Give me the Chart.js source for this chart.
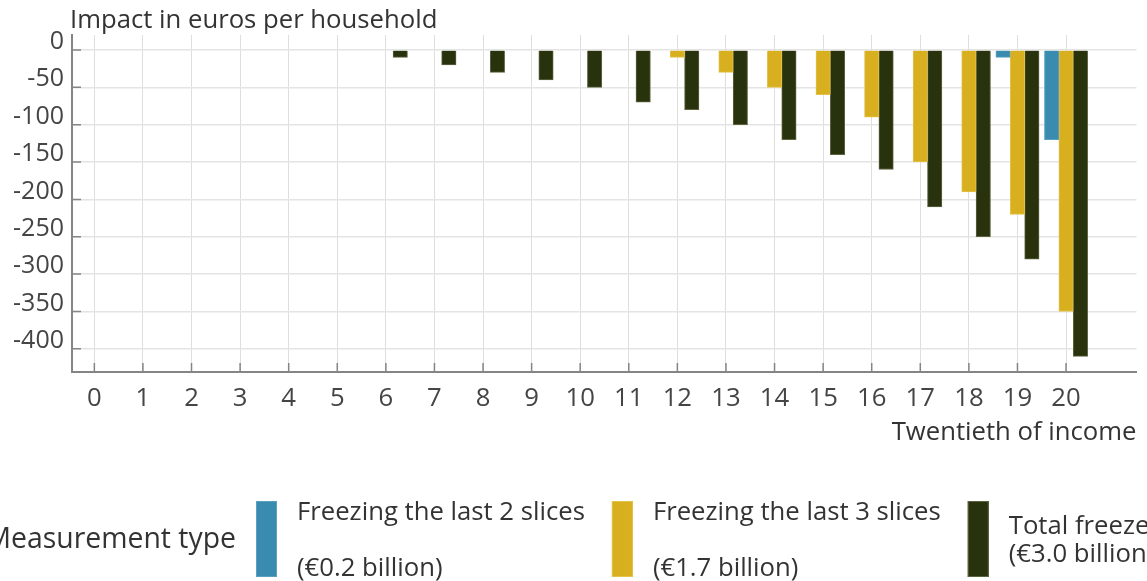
<!DOCTYPE html>
<html>
<head>
<meta charset="utf-8">
<script src="https://cdn.jsdelivr.net/npm/chart.js@4.4.1/dist/chart.umd.min.js"></script>
<style>
  html, body { margin: 0; padding: 0; background: #fff; }
  #wrap { width: 1147px; height: 581px; position: relative; }
</style>
</head>
<body>
<div id="wrap"><canvas id="chart"></canvas></div>
<script>
// ---- Data ----
const CATEGORIES = [0, 1, 2, 3, 4, 5, 6, 7, 8, 9, 10, 11, 12, 13, 14, 15, 16, 17, 18, 19, 20];

const FREEZE_2 = [null, null, null, null, null, null, null, null, null, null,
                  null, null, null, null, null, null, null, null, null, -10, -120];
const FREEZE_3 = [null, null, null, null, null, null, null, null, null, null,
                  null, null, -10, -30, -50, -60, -90, -150, -190, -220, -350];
const TOTAL    = [null, null, null, null, null, null, -10, -20, -30, -40,
                  -50, -70, -80, -100, -120, -140, -160, -210, -250, -280, -410];

const SERIES_LINES = [
  ["Freezing the last 2 slices", "", "(€0.2 billion)"],
  ["Freezing the last 3 slices", "", "(€1.7 billion)"],
  ["Total freeze", "(€3.0 billion)"]
];
const SERIES_COLORS = ["#398bb0", "#d7af1f", "#28320c"];
const SERIES_BORDERS = ["#5aa0c0", "#e3c24a", "#5d6340"];

const Y_TICKS = [0, -50, -100, -150, -200, -250, -300, -350, -400];
const X_TICKS = CATEGORIES;
const Y_MIN = -431, Y_MAX = 20;
const X_MIN = -0.46, X_MAX = 21.45;

const Y_TITLE = "Impact in euros per household";
const X_TITLE = "Twentieth of income";
const LEGEND_TITLE = "Measurement type";

// ---- Style ----
const FONT = '25.7px "Open Sans", sans-serif';
const LEGEND_TITLE_FONT = '28.4px "Open Sans", sans-serif';
const TEXT = "#333";
const TICK_TEXT = "#454545";
const AXIS = "#858585";

Chart.defaults.font.family = '"Open Sans", sans-serif';
Chart.defaults.font.size = 25.7;
Chart.defaults.color = TICK_TEXT;

function points(values) {
  return values.map((v, i) => ({ x: CATEGORIES[i], y: v }));
}

// titles, inner tick marks, legend
const decor = {
  id: "decor",
  afterDraw(chart) {
    const { ctx, chartArea: a } = chart;
    const x = chart.scales.x, y = chart.scales.y;
    ctx.save();

    ctx.strokeStyle = AXIS;
    ctx.lineWidth = 1.5;
    ctx.beginPath();
    y.ticks.forEach(t => {
      const p = y.getPixelForValue(t.value);
      ctx.moveTo(a.left, p); ctx.lineTo(a.left + 9, p);
    });
    x.ticks.forEach(t => {
      const p = x.getPixelForValue(t.value);
      ctx.moveTo(p, a.bottom); ctx.lineTo(p, a.bottom - 9);
    });
    ctx.stroke();

    ctx.font = FONT;
    ctx.fillStyle = TEXT;
    ctx.textBaseline = "alphabetic";
    ctx.textAlign = "left";
    ctx.fillText(Y_TITLE, a.left - 2, 28);
    ctx.textAlign = "right";
    ctx.fillText(X_TITLE, a.right, 440);

    // legend
    const mid = 548, lh = 28;
    ctx.font = LEGEND_TITLE_FONT;
    ctx.fillText(LEGEND_TITLE, 236, mid);
    ctx.font = FONT;
    let cx = 256;
    chart.data.datasets.forEach((ds, i) => {
      ctx.fillStyle = ds.backgroundColor;
      ctx.fillRect(cx, 501, 21, 76);
      ctx.strokeStyle = ds.borderColor;
      ctx.lineWidth = 1;
      ctx.strokeRect(cx + 0.5, 501.5, 20, 75);
      const lines = SERIES_LINES[i];
      const tx = cx + 41;
      ctx.fillStyle = TEXT;
      ctx.textAlign = "left";
      let w = 0;
      lines.forEach((l, k) => {
        ctx.fillText(l, tx, mid - (lines.length - 1) * lh / 2 + k * lh);
        w = Math.max(w, ctx.measureText(l).width);
      });
      cx = tx + w + 27;
    });
    ctx.restore();
  }
};

new Chart(document.getElementById("chart"), {
  type: "bar",
  data: {
    datasets: [FREEZE_2, FREEZE_3, TOTAL].map((vals, i) => ({
      label: SERIES_LINES[i].filter(Boolean).join(" "),
      data: points(vals),
      backgroundColor: SERIES_COLORS[i],
      borderColor: SERIES_BORDERS[i],
      borderWidth: 1,
      barThickness: 14.4
    }))
  },
  options: {
    responsive: true,
    maintainAspectRatio: false,
    animation: false,
    layout: { padding: { top: 35, right: 10.5, bottom: 0, left: 0 } },
    plugins: {
      legend: { display: false },
      tooltip: { enabled: false }
    },
    scales: {
      x: {
        type: "linear",
        min: X_MIN,
        max: X_MAX,
        offset: false,
        afterBuildTicks: s => { s.ticks = X_TICKS.map(v => ({ value: v })); },
        afterFit: s => { s.height = 209; },
        ticks: { padding: 11, color: TICK_TEXT, maxRotation: 0, autoSkip: false },
        grid: { offset: false, color: "#dedede", lineWidth: 1, drawTicks: false },
        border: { color: AXIS, width: 2 }
      },
      y: {
        min: Y_MIN,
        max: Y_MAX,
        afterBuildTicks: s => { s.ticks = Y_TICKS.map(v => ({ value: v })); },
        afterFit: s => { s.width = 72; },
        ticks: { padding: 8, labelOffset: -8, color: TICK_TEXT, font: { size: 25 } },
        grid: { color: "#e4e4e4", lineWidth: 1.5, drawTicks: false },
        border: { color: AXIS, width: 2 }
      }
    }
  },
  plugins: [decor]
});
</script>
</body>
</html>
